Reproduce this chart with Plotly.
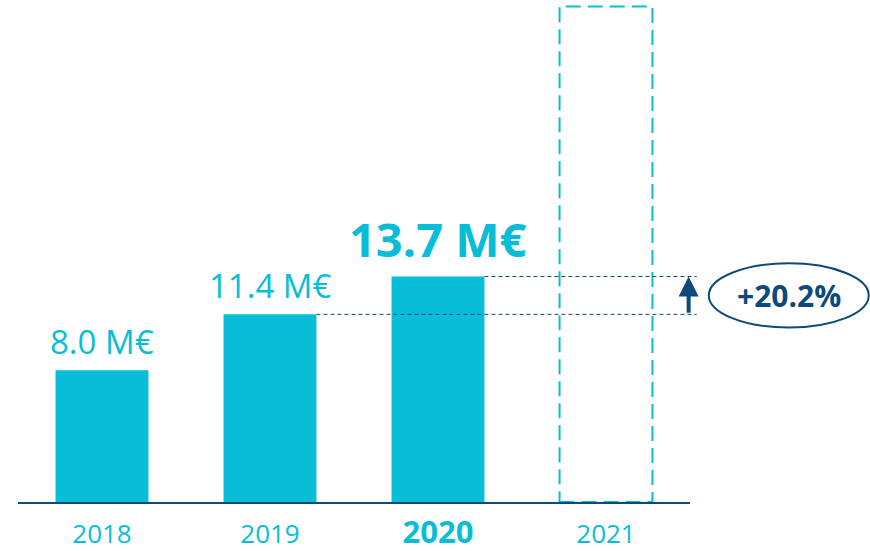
import plotly.graph_objects as go

years = ["2018", "2019", "2020", "2021"]
revenue = [8.0, 11.4, 13.7]          # M€, actual
target_2021 = 30.1                   # dashed placeholder height
labels = ["8.0 M€", "11.4 M€", "13.7 M€"]

CYAN = "#07BDD7"
NAVY = "#0D4A7B"
FONT = "Open Sans"

BAR_W = 0.553
XMIN, XMAX = -0.5, 3.5
YMAX = 30.5

growth = (revenue[2] - revenue[1]) / revenue[1] * 100
growth_txt = f"+{growth:.1f}%"

def xpaper(v):
    return (v - XMIN) / (XMAX - XMIN)

xs = list(range(len(revenue)))

fig = go.Figure()
fig.add_trace(go.Bar(
    x=xs, y=revenue, width=BAR_W,
    marker=dict(color=CYAN, line=dict(width=0)),
    hoverinfo="skip", showlegend=False,
))

ticktext = []
for i, y in enumerate(years):
    if i == 2:
        ticktext.append(f'<span style="font-size:31px;font-weight:bold">{y}</span>')
    else:
        ticktext.append(y)

fig.update_layout(
    width=870, height=551,
    margin=dict(l=18, r=180, t=0, b=49),
    paper_bgcolor="white", plot_bgcolor="white",
    showlegend=False,
    xaxis=dict(range=[XMIN, XMAX], tickmode="array", tickvals=list(range(len(years))),
               ticktext=ticktext, showgrid=False, zeroline=False,
               showline=True, linecolor=NAVY, linewidth=2, ticks="",
               tickfont=dict(family=FONT, size=26, color=CYAN),
               ticklabelstandoff=8),
    yaxis=dict(range=[0, YMAX], visible=False, showgrid=False, zeroline=False),
)

# Dashed placeholder for 2021
fig.add_shape(type="rect", xref="x", yref="y",
              x0=3 - BAR_W / 2, x1=3 + BAR_W / 2, y0=0, y1=target_2021,
              line=dict(color=CYAN, width=2, dash="15px,7px"), fillcolor="rgba(0,0,0,0)",
              layer="above")

# Value labels
for i, (v, t) in enumerate(zip(revenue, labels)):
    bold = i == 2
    fig.add_annotation(x=i, y=v, xref="x", yref="y", text=f"<b>{t}</b>" if bold else t,
                       showarrow=False, yanchor="bottom", xanchor="center",
                       yshift=4 if bold else 4,
                       font=dict(family=FONT, size=47 if bold else 33, color=CYAN))

# Dashed reference lines
line_end = 1.01
for i in (1, 2):
    fig.add_shape(type="line", xref="paper", yref="y",
                  x0=xpaper(i + BAR_W / 2), x1=line_end, y0=revenue[i], y1=revenue[i],
                  line=dict(color=NAVY, width=1, dash="4px,3px"))

# Growth arrow
fig.add_annotation(x=0.998, y=revenue[2], xref="paper", yref="y",
                   ax=0, ay=revenue[1], axref="pixel", ayref="y",
                   showarrow=True, arrowhead=2, arrowsize=1.0, arrowwidth=4,
                   arrowcolor=NAVY, text="", standoff=0, startstandoff=0)

# Ellipse with growth text
mid = (revenue[1] + revenue[2]) / 2
fig.add_shape(type="circle", xref="paper", yref="y",
              x0=1.028, x1=1.266, y0=mid - 1.95, y1=mid + 1.95,
              line=dict(color=NAVY, width=2))
fig.add_annotation(x=1.147, y=mid, xref="paper", yref="y", text=f"<b>{growth_txt}</b>",
                   showarrow=False, xanchor="center", yanchor="middle",
                   font=dict(family=FONT, size=30, color=NAVY))

fig.write_html("out.html")
